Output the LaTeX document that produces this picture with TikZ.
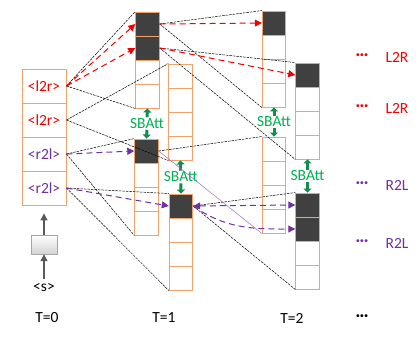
\documentclass[tikz,border=0pt]{standalone}
\usepackage{fontspec}
\setmainfont{Carlito}
\usepackage{tikz}
\usetikzlibrary{arrows.meta, calc}

\definecolor{cellline}{RGB}{241,163,110}
\definecolor{cellfill}{RGB}{64,64,64}
\definecolor{ltor}{RGB}{240,0,0}
\definecolor{rtol}{RGB}{112,48,160}
\definecolor{sbtext}{RGB}{0,176,80}
\definecolor{sbline}{RGB}{20,140,80}
\definecolor{initline}{RGB}{89,89,89}

\begin{document}
\begin{tikzpicture}[x=1pt, y=-1pt, >={Triangle[width=7pt, length=7pt]}, font=\fontsize{15.5}{18}\selectfont,
  cell/.style={draw=cellline, line width=0.9pt, minimum width=23.5pt, minimum height=24pt, inner sep=0pt},
  tok/.style={draw=cellline, line width=0.9pt, fill=white, minimum width=44pt, minimum height=34pt, inner sep=0pt},
  att/.style={black, line width=0.5pt, dash pattern=on 2.5pt off 1pt},
  lr/.style={->, draw=ltor, line width=1pt, dash pattern=on 6pt off 4pt},
  rl/.style={->, draw=rtol, line width=1pt, dash pattern=on 6pt off 4pt},
  sb/.style={-{Triangle[width=8pt, length=4pt]}, draw=sbline, line width=3pt, shorten <=1pt},
  sbnode/.style={text=sbtext, inner sep=0pt}]
				\useasboundingbox (0,0) rectangle (420,341);
				
				\node[tok, text=ltor] (s1) at (44,86) {<l2r>};
				\node[tok, text=ltor] (s2) at (44,120) {<l2r>};
				\node[tok, text=rtol] (s3) at (44,154) {<r2l>};
				\node[tok, text=rtol] (s4) at (44,188) {<r2l>};
				
				\node[draw=gray!70, top color=white, bottom color=gray!35, minimum width=26pt, minimum height=19pt, inner sep=0pt] (init) at (44,244.5) {};
				\node (start) at (44,287) {<s>};
				\draw[->, draw=initline, line width=1.2pt] (start) -- (init);
				\draw[->, draw=initline, line width=1.2pt, shorten >=8pt] (init.north) -- (s4.south);
				
				\foreach \n/\x/\y/\k in {t1a/147.5/12/2, t1b/146.5/139/1, t1c/180.5/64/0, t1d/181/194/1, t2a/274/11/1, t2b/274/137/0, t2c/307.5/63/1, t2d/307.5/193/2}{
					\foreach \i in {1,...,4}{
						\ifnum\i>\k \def\cellcol{white}\else\def\cellcol{cellfill}\fi
						\node[cell, fill=\cellcol] (\n\i) at (\x, \y+24*\i-12) {};
					}
				}
				
				\node[sbnode] (sb1) at ($(t1a4.south)!0.5!(t1b1.north)$) {SBAtt};
				\node[sbnode] (sb2) at ($(t1c4.south)!0.5!(t1d1.north)$) {SBAtt};
				\node[sbnode] (sb3) at ($(t2a4.south)!0.5!(t2b1.north)$) {SBAtt};
				\node[sbnode] (sb4) at ($(t2c4.south)!0.5!(t2d1.north)$) {SBAtt};
				\draw[sb] (sb1.north) -- (t1a4.south);
				\draw[sb] (sb1.south) -- (t1b1.north);
				\draw[sb] (sb2.north) -- (t1c4.south);
				\draw[sb] (sb2.south) -- (t1d1.north);
				\draw[sb] (sb3.north) -- (t2a4.south);
				\draw[sb] (sb3.south) -- (t2b1.north);
				\draw[sb] (sb4.north) -- (t2c4.south);
				\draw[sb] (sb4.south) -- (t2d1.north);
				
				\draw[att] (s1.east) -- (t1a1.north west);
				\draw[att] (s1.east) -- (t1a4.south west);
				\draw[att] (s2.east) -- (t1c1.north west);
				\draw[att] (s2.east) -- (t1c4.south west);
				\draw[att] (s3.east) -- (t1b1.north west);
				\draw[att] (s3.east) -- (t1b4.south west);
				\draw[att] (s4.east) -- (t1d1.north west);
				\draw[att] (s4.east) -- (t1d4.south west);
				\draw[att] (t1a1.east) -- (t2a1.north west);
				\draw[att] (t1a1.east) -- (t2a4.south west);
				\draw[att] (t1a2.east) -- (t2c1.north west);
				\draw[att] (t1a2.east) -- (t2c4.south west);
				\draw[att] (t1b1.east) -- (t2b1.north west);
				\draw[draw=rtol!70, line width=0.5pt] (t1b1.east) -- (t2b4.south west);
				\draw[att] (t1d1.east) -- (t2d1.north west);
				\draw[att] (t1d1.east) -- (t2d4.south west);
				
				\draw[lr] (s1.east) -- (t1a1.west);
				\draw[lr] (s1.east) -- (t1a2.west);
				\draw[lr] (t1a1.east) -- (t2a1.west);
				\draw[lr] (t1a2.east) -- (t2c1.west);
				\draw[rl] (s3.east) -- (t1b1.west);
				\draw[rl] (s4.east) -- (t1d1.west);
				\draw[rl, <->] (t1d1.east) -- (t2d1.west);
				\draw[rl] (t1d1.east) to[out=-35, in=180] (t2d2.west);
				
				\node[text=ltor] (dots1) at (362,57) {\textbf{···}};
				\node[text=ltor] (dir1) at (397,57) {L2R};
				\node[text=ltor] (dots2) at (362,108) {\textbf{···}};
				\node[text=ltor] (dir2) at (397,108) {L2R};
				\node[text=rtol] (dots3) at (362,185) {\textbf{···}};
				\node[text=rtol] (dir3) at (397,185) {R2L};
				\node[text=rtol] (dots4) at (362,243) {\textbf{···}};
				\node[text=rtol] (dir4) at (397,243) {R2L};
				
				\node (time0) at (47,318) {T=0};
				\node (time1) at (164,318) {T=1};
				\node (time2) at (292,318) {T=2};
				\node (time3) at (362,318) {\textbf{···}};
			\end{tikzpicture}
\end{document}
